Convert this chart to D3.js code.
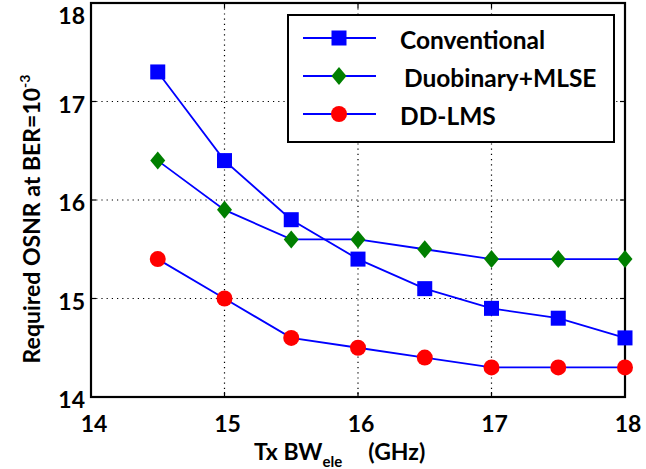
<!DOCTYPE html>
<html lang="en">
<head>
  <meta charset="UTF-8" />
  <title>Required OSNR vs Tx BW</title>
  <style>
    body { margin: 0; background: #fff; }
    text { font-family: Lato, "Open Sans", sans-serif; font-weight: bold; fill: #000; }
    .grid line { stroke: #000; stroke-width: 1.2px; stroke-dasharray: 1.2 4; }
  </style>
  <script src="https://d3js.org/d3.v7.min.js"></script>
</head>
<body>
  <svg width="646" height="469"></svg>
  <script>
    // data
    const bw = [14.5, 15, 15.5, 16, 16.5, 17, 17.5, 18];
    const conventional = [17.3, 16.4, 15.8, 15.4, 15.1, 14.9, 14.8, 14.6];
    const duobinary = [16.4, 15.9, 15.6, 15.6, 15.5, 15.4, 15.4, 15.4];
    const ddlms = [15.4, 15.0, 14.6, 14.5, 14.4, 14.3, 14.3, 14.3];
    const xTicks = [14, 15, 16, 17, 18];
    const yTicks = [14, 15, 16, 17, 18];

    const series = [
      { name: 'Conventional', values: conventional, shape: 'square', color: '#0000ff' },
      { name: 'Duobinary+MLSE', values: duobinary, shape: 'diamond', color: '#007f00' },
      { name: 'DD-LMS', values: ddlms, shape: 'circle', color: '#ff0000' }
    ];

    const svg = d3.select('svg');
    const plotL = 91, plotR = 625, plotT = 3, plotB = 397;

    const x = d3.scaleLinear().domain([14, 18]).range([plotL, plotR]);
    const y = d3.scaleLinear().domain([14, 18]).range([plotB, plotT]);

    // dotted grid
    const grid = svg.append('g').attr('class', 'grid');
    grid.selectAll('.gx')
      .data(xTicks.slice(1, -1))
      .enter().append('line')
      .attr('x1', d => x(d)).attr('x2', d => x(d))
      .attr('y1', plotT).attr('y2', plotB);
    grid.selectAll('.gy')
      .data(yTicks.slice(1, -1))
      .enter().append('line')
      .attr('y1', d => y(d)).attr('y2', d => y(d))
      .attr('x1', plotL).attr('x2', plotR);

    // inner ticks on all four sides
    const tickLen = 5;
    const ticks = svg.append('g').attr('stroke', '#000').attr('stroke-width', 1.2);
    xTicks.forEach(t => {
      ticks.append('line').attr('x1', x(t)).attr('x2', x(t)).attr('y1', plotB).attr('y2', plotB - tickLen);
      ticks.append('line').attr('x1', x(t)).attr('x2', x(t)).attr('y1', plotT).attr('y2', plotT + tickLen);
    });
    yTicks.forEach(t => {
      ticks.append('line').attr('y1', y(t)).attr('y2', y(t)).attr('x1', plotL).attr('x2', plotL + tickLen);
      ticks.append('line').attr('y1', y(t)).attr('y2', y(t)).attr('x1', plotR).attr('x2', plotR - tickLen);
    });

    // axes box
    svg.append('rect')
      .attr('x', plotL).attr('y', plotT)
      .attr('width', plotR - plotL).attr('height', plotB - plotT)
      .attr('fill', 'none').attr('stroke', '#000').attr('stroke-width', 2.2);

    // tick labels
    svg.append('g').selectAll('text')
      .data(xTicks)
      .enter().append('text')
      .attr('x', d => x(d) + 3)
      .attr('y', 432)
      .attr('text-anchor', 'middle')
      .attr('font-size', 23)
      .text(d => d);

    svg.append('g').selectAll('text')
      .data(yTicks)
      .enter().append('text')
      .attr('x', plotL - 6)
      .attr('y', d => Math.max(y(d), 13) + 11)
      .attr('text-anchor', 'end')
      .attr('font-size', 23)
      .text(d => d);

    // axis titles
    const xt = svg.append('text')
      .attr('x', 254).attr('y', 460)
      .attr('font-size', 23);
    xt.append('tspan').text('Tx BW');
    xt.append('tspan').attr('font-size', 15).attr('dy', 7).text('ele');
    xt.append('tspan').attr('dy', -7).attr('dx', 26).text('(GHz)');

    const yt = svg.append('text')
      .attr('transform', 'translate(40,219) rotate(-90)')
      .attr('text-anchor', 'middle')
      .attr('font-size', 23);
    yt.append('tspan').text('Required OSNR at BER=10');
    yt.append('tspan').attr('font-size', 14).attr('dy', -10).text('-3');

    // markers
    function drawMarker(g, shape, color, cx, cy) {
      if (shape === 'square') {
        g.append('rect').attr('x', cx - 7.5).attr('y', cy - 7.5)
          .attr('width', 15).attr('height', 15).attr('fill', color);
      } else if (shape === 'diamond') {
        g.append('path')
          .attr('d', `M${cx},${cy - 9}L${cx + 7.5},${cy}L${cx},${cy + 9}L${cx - 7.5},${cy}Z`)
          .attr('fill', color);
      } else {
        g.append('circle').attr('cx', cx).attr('cy', cy).attr('r', 8).attr('fill', color);
      }
    }

    const line = d3.line().x(d => x(d[0])).y(d => y(d[1]));

    series.forEach(s => {
      const pts = bw.map((b, i) => [b, s.values[i]]);
      const g = svg.append('g');
      g.append('path')
        .attr('d', line(pts))
        .attr('fill', 'none')
        .attr('stroke', '#0000ff')
        .attr('stroke-width', 1.8);
      pts.forEach(p => drawMarker(g, s.shape, s.color, x(p[0]), y(p[1])));
    });

    // legend
    const lg = svg.append('g');
    lg.append('rect')
      .attr('x', 288).attr('y', 15)
      .attr('width', 326).attr('height', 127)
      .attr('fill', '#fff').attr('stroke', '#000').attr('stroke-width', 2);
    series.forEach((s, i) => {
      const ry = 38 + i * 38;
      lg.append('line')
        .attr('x1', 303).attr('x2', 376)
        .attr('y1', ry).attr('y2', ry)
        .attr('stroke', '#0000ff').attr('stroke-width', 1.8);
      drawMarker(lg, s.shape, s.color, 339, ry);
      lg.append('text')
        .attr('x', i === 1 ? 404 : 400)
        .attr('y', ry + 11)
        .attr('font-size', 24.5)
        .text(s.name);
    });
  </script>
</body>
</html>
